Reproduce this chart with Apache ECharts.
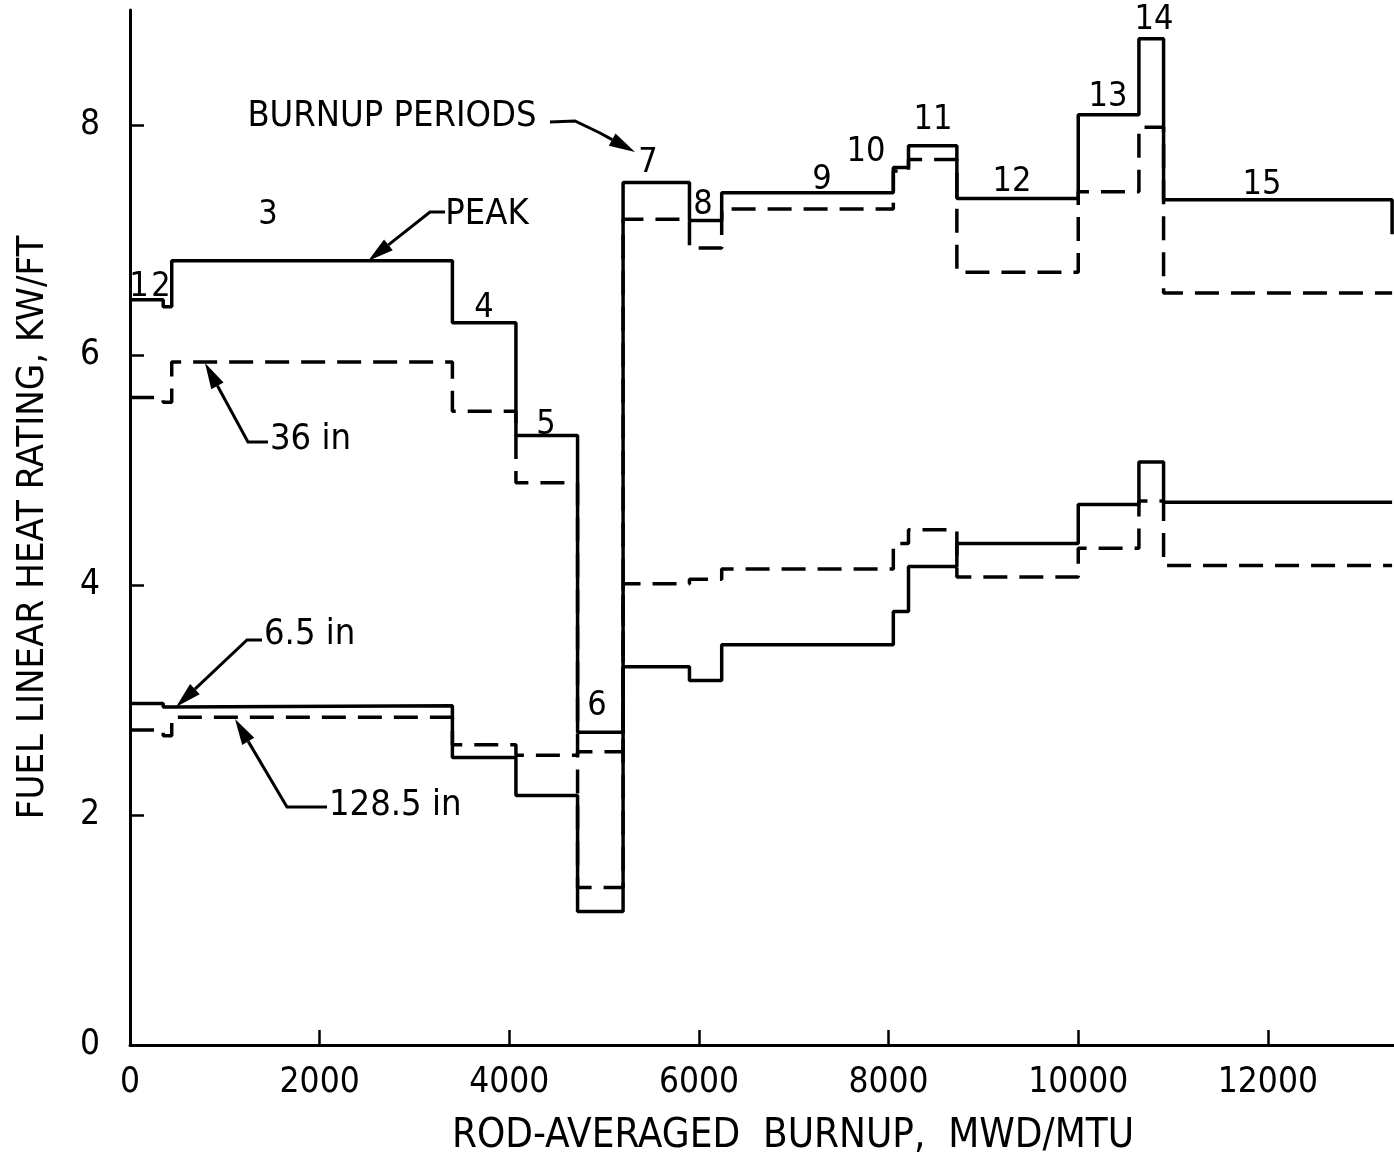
<!DOCTYPE html>
<html>
<head>
<meta charset="utf-8">
<script src="https://cdn.jsdelivr.net/npm/echarts@6/dist/echarts.min.js"></script>
<style>
html,body{margin:0;padding:0;background:#fff;}
#main{width:1394px;height:1165px;}
</style>
</head>
<body>
<div id="main"></div>
<script>
// ---- data ----
const boundaries = [0, 350, 440, 3400, 4070, 4720, 5200, 5900, 6240, 8050, 8210, 8720, 10000, 10640, 10900, 13310];
const periodNames = ['1','2','3','4','5','6','7','8','9','10','11','12','13','14','15'];
const peak   = [6.48, 6.42, 6.82, 6.28, 5.30, 2.72, 7.50, 7.17, 7.41, 7.63, 7.82, 7.36, 8.09, 8.75, 7.35];
const in36   = [5.63, 5.59, 5.94, 5.51, 4.89, 1.37, 7.18, 6.93, 7.27, 7.60, 7.70, 6.72, 7.42, 7.98, 6.54];
const in6_5  = [2.97, 2.94, 2.95, 2.50, 2.17, 1.16, 3.29, 3.17, 3.48, 3.77, 4.16, 4.36, 4.70, 5.07, 4.72];
const in128_5= [2.74, 2.69, 2.85, 2.61, 2.52, 2.55, 4.01, 4.05, 4.14, 4.36, 4.48, 4.07, 4.32, 4.73, 4.17];
const peakTail = 7.05;
const xTicks = [0, 2000, 4000, 6000, 8000, 10000, 12000];
const yTicks = [0, 2, 4, 6, 8];

const FONT = "'Liberation Sans Narrow', 'DejaVu Sans Condensed', 'Liberation Sans', sans-serif";

function steps(vals) {
  const pts = [];
  vals.forEach((v, i) => { pts.push([boundaries[i], v]); pts.push([boundaries[i + 1], v]); });
  return pts;
}
const peakPts = steps(peak);
peakPts.push([boundaries[boundaries.length - 1], peakTail]);

function arrow(points) {
  const n = points.length;
  const tip = points[n - 1], prev = points[n - 2];
  const dx = tip[0] - prev[0], dy = tip[1] - prev[1];
  const L = Math.sqrt(dx * dx + dy * dy);
  const ux = dx / L, uy = dy / L;
  const hl = 26, hw = 7;
  const bx = tip[0] - ux * hl, by = tip[1] - uy * hl;
  return [
    { type: 'polyline', shape: { points: points.slice(0, n - 1).concat([[bx, by]]) },
      style: { stroke: '#000', lineWidth: 3, fill: null } },
    { type: 'polygon', shape: { points: [tip, [bx - uy * hw, by + ux * hw], [bx + uy * hw, by - ux * hw]] },
      style: { fill: '#000' } }
  ];
}
function txt(s, x, y, size, align) {
  return { type: 'text', x: x, y: y, style: { text: s, font: size + 'px ' + FONT, fill: '#000',
    align: align || 'center', verticalAlign: 'middle' } };
}

const periodLabelPos = [
  [139, 287], [161, 287], [268, 215], [484, 308], [546, 425], [597, 706], [648, 163],
  [703, 205], [822, 180], [866, 152], [933, 120], [1012, 182], [1108, 97], [1154, 20], [1262, 185]
];

const graphics = [];
periodNames.forEach((p, i) => graphics.push(txt(p, periodLabelPos[i][0], periodLabelPos[i][1], 34)));
graphics.push(txt('BURNUP PERIODS', 392, 117, 36));
graphics.push(txt('PEAK', 487, 215, 36));
graphics.push(txt('36 in', 270, 440, 36, 'left'));
graphics.push(txt('6.5 in', 264, 635, 36, 'left'));
graphics.push(txt('128.5 in', 329, 806, 36, 'left'));
[].push.apply(graphics, arrow([[550, 122], [575, 121], [600, 133], [635, 152]]));
[].push.apply(graphics, arrow([[445, 212], [430, 212], [368, 261]]));
[].push.apply(graphics, arrow([[268, 442], [248, 442], [205, 363]]));
[].push.apply(graphics, arrow([[262, 640], [247, 640], [176, 707]]));
[].push.apply(graphics, arrow([[327, 807], [287, 807], [235, 719]]));

const chart = echarts.init(document.getElementById('main'));
const lineBase = { type: 'line', symbol: 'none', animation: false, silent: true };
chart.setOption({
  backgroundColor: '#fff',
  animation: false,
  grid: { left: 130, right: 0, top: 10, bottom: 120, containLabel: false, outerBoundsMode: 'none' },
  xAxis: {
    type: 'value', min: 0, max: 13330, interval: 2000,
    name: 'ROD-AVERAGED  BURNUP,  MWD/MTU', nameLocation: 'middle', nameGap: 72,
    nameTextStyle: { fontSize: 40, fontFamily: FONT, color: '#000', padding: [0, 0, 0, 62] },
    axisLine: { lineStyle: { color: '#000', width: 3 } },
    axisTick: { inside: true, length: 15, lineStyle: { color: '#000', width: 2.5 }, customValues: xTicks },
    axisLabel: { customValues: xTicks, fontSize: 35, fontFamily: FONT, color: '#000', margin: 20,
      formatter: v => String(v) },
    splitLine: { show: false }
  },
  yAxis: {
    type: 'value', min: 0, max: 9, interval: 1,
    name: 'FUEL LINEAR HEAT RATING, KW/FT', nameLocation: 'middle', nameGap: 78, nameRotate: 90,
    nameTextStyle: { fontSize: 38, fontFamily: FONT, color: '#000' },
    axisLine: { lineStyle: { color: '#000', width: 3 } },
    axisTick: { inside: true, length: 14, lineStyle: { color: '#000', width: 2.5 }, customValues: yTicks },
    axisLabel: { customValues: yTicks, fontSize: 35, fontFamily: FONT, color: '#000', margin: 30,
      formatter: v => String(v) },
    splitLine: { show: false }
  },
  series: [
    Object.assign({}, lineBase, { name: 'PEAK', data: peakPts, lineStyle: { color: '#000', width: 3.5 } }),
    Object.assign({}, lineBase, { name: '36 in', data: steps(in36), lineStyle: { color: '#000', width: 3.5, type: [24, 12] } }),
    Object.assign({}, lineBase, { name: '6.5 in', data: steps(in6_5), lineStyle: { color: '#000', width: 3.5 } }),
    Object.assign({}, lineBase, { name: '128.5 in', data: steps(in128_5), lineStyle: { color: '#000', width: 3.5, type: [24, 12] } })
  ],
  graphic: graphics
});
</script>
</body>
</html>
